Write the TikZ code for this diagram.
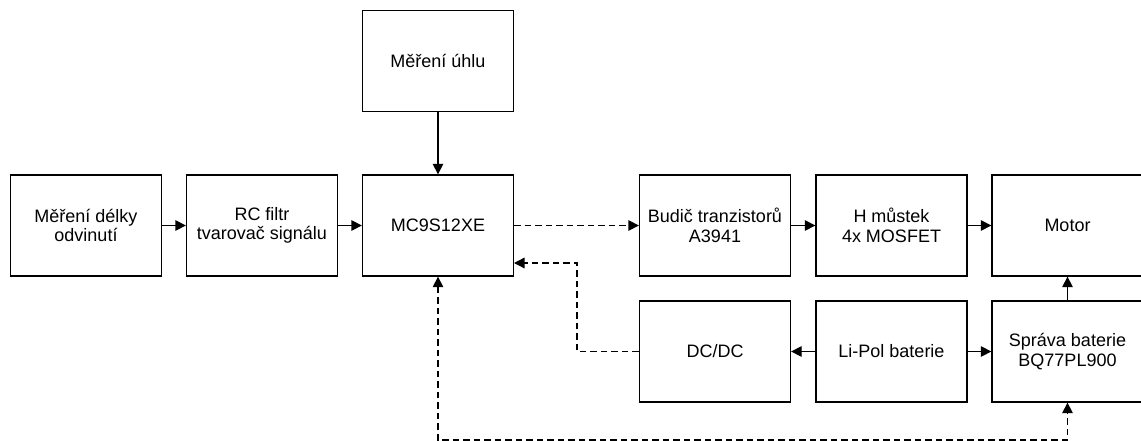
\documentclass[tikz,border=0pt]{standalone}
\usepackage{fontspec}
\setmainfont{Liberation Sans}
\usetikzlibrary{arrows.meta}
\begin{document}
\begin{tikzpicture}[x=1pt,y=-1pt,
  blok/.style={draw, line width=1.3pt, minimum width=151pt, minimum height=101pt,
    inner sep=0pt, align=center, font=\fontsize{18}{19.5}\selectfont},
  sip/.style={line width=1.3pt, -{Triangle[length=10.5pt,width=10.5pt]}},
  obousip/.style={line width=1.3pt, {Triangle[length=10.5pt,width=10.5pt]}-{Triangle[length=10.5pt,width=10.5pt]}},
  carkovane/.style={dash pattern=on 6.5pt off 4pt}]
\useasboundingbox (0,0) rectangle (1141,441);
% bloky
\node[blok] (uhel)   at (438,61)      {Měření úhlu};
\node[blok] (delka)  at (86,225.5)    {Měření délky\\odvinutí};
\node[blok] (rc)     at (262,225.5)   {RC filtr\\tvarovač signálu};
\node[blok] (mcu)    at (438,225.5)   {MC9S12XE};
\node[blok] (budic)  at (715,225.5)   {Budič tranzistorů\\A3941};
\node[blok] (hmost)  at (891.5,225.5) {H můstek\\4x MOSFET};
\node[blok] (motor)  at (1067.5,225.5){Motor};
\node[blok] (dcdc)   at (715,351.5)   {DC/DC};
\node[blok] (lipol)  at (891.5,351.5) {Li-Pol baterie};
\node[blok] (sprava) at (1067.5,351.5){Správa baterie\\BQ77PL900};
% pomocne body
\coordinate (vstup)  at (514,263);
\coordinate (lom)    at (577,351.5);
\coordinate (spodek) at (438,440);
% spoje
\draw[sip] (uhel) -- (mcu);
\draw[sip] (delka) -- (rc);
\draw[sip] (rc) -- (mcu);
\draw[sip,carkovane] (mcu) -- (budic);
\draw[sip] (budic) -- (hmost);
\draw[sip] (hmost) -- (motor);
\draw[sip] (lipol) -- (dcdc);
\draw[sip] (lipol) -- (sprava);
\draw[sip] (sprava) -- (motor);
\draw[sip,carkovane] (dcdc.west) -- (lom) |- (vstup);
\draw[obousip,carkovane] (mcu.south) -- (spodek) -| (sprava.south);
\end{tikzpicture}
\end{document}
